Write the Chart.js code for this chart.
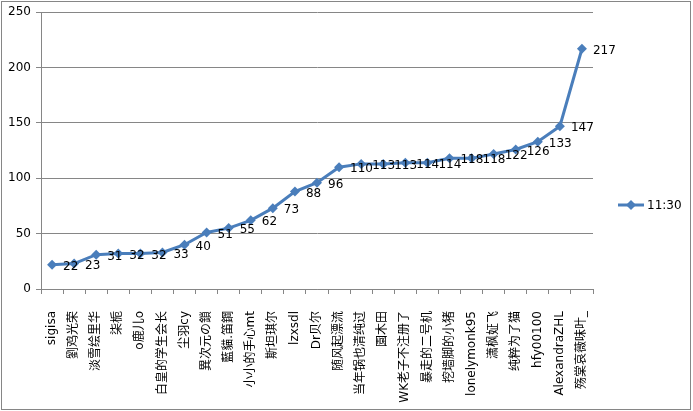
<!DOCTYPE html>
<html>
<head>
<meta charset="utf-8">
<script src="https://cdn.jsdelivr.net/npm/chart.js@4"></script>
<style>
  html, body { margin: 0; padding: 0; background: #fff; }
  #wrap { width: 693px; height: 411px; position: relative; }
</style>
</head>
<body>
<div id="wrap"><canvas id="myChart"></canvas></div>
<script>
var names = [
  "sigisa", "劉鸡光荣", "淡雪绘里华", "柒栀", "o鹿儿o", "白皇的学生会长", "尘羽cy",
  "異次元の鎖", "藍貓.笛鋼", "小小的手心mt", "斯坦琪尔", "lzxsdl", "Dr贝尔",
  "随风起漂流", "当年锅也清纯过", "園木田", "WK老子不注册了", "暴走的二号机",
  "挖墙脚的小猪", "lonelymonk95", "潇枫姃飞", "纯粹为了猫", "hfy00100",
  "AlexandraZHL", "殇棠哀薇味叶_"
];
var votes = [22, 23, 31, 32, 32, 33, 40, 51, 55, 62, 73, 88, 96, 110, 113, 113,
  114, 114, 118, 118, 122, 126, 133, 147, 217];
var seriesName = "11:30";
var yTicks = [0, 50, 100, 150, 200, 250];

var FONT = "DejaVu Sans, 'Noto Sans CJK SC', sans-serif";
var BLUE = "#4A7EBB";

// labels to the right of each point, like excel
var pointLabels = {
  id: "pointLabels",
  afterDatasetsDraw: function (chart) {
    var ctx = chart.ctx;
    var meta = chart.getDatasetMeta(0);
    ctx.save();
    ctx.font = "12px " + FONT;
    ctx.fillStyle = "#000";
    ctx.textAlign = "left";
    ctx.textBaseline = "middle";
    meta.data.forEach(function (pt, i) {
      ctx.fillText(String(votes[i]), pt.x + 11, pt.y + 2);
    });
    ctx.restore();
  }
};

// legend with line + diamond, and outer frame
var frameLegend = {
  id: "frameLegend",
  afterDraw: function (chart) {
    var ctx = chart.ctx;
    ctx.save();
    ctx.strokeStyle = "#868686";
    ctx.lineWidth = 1;
    ctx.strokeRect(1.5, 1.5, 689, 408);

    var y = 205;
    ctx.strokeStyle = BLUE;
    ctx.lineWidth = 3;
    ctx.beginPath();
    ctx.moveTo(618, y);
    ctx.lineTo(644, y);
    ctx.stroke();
    ctx.fillStyle = BLUE;
    ctx.beginPath();
    ctx.moveTo(631, y - 5);
    ctx.lineTo(636, y);
    ctx.lineTo(631, y + 5);
    ctx.lineTo(626, y);
    ctx.closePath();
    ctx.fill();
    ctx.fillStyle = "#000";
    ctx.font = "12px " + FONT;
    ctx.textBaseline = "middle";
    ctx.fillText(seriesName, 647, y + 1);
    ctx.restore();
  }
};

var ctx = document.getElementById("myChart").getContext("2d");

var myChart = new Chart(ctx, {
  type: "line",
  data: {
    labels: names,
    datasets: [
      {
        label: seriesName,
        data: votes,
        borderColor: BLUE,
        backgroundColor: BLUE,
        borderWidth: 3,
        pointStyle: "rectRot",
        pointRadius: 5,
        pointHoverRadius: 5,
        pointBorderWidth: 0,
        tension: 0
      }
    ]
  },
  options: {
    responsive: true,
    maintainAspectRatio: false,
    animation: false,
    layout: {
      padding: { left: 1, top: 4, right: 100, bottom: 0 }
    },
    plugins: {
      legend: { display: false },
      tooltip: { enabled: false }
    },
    scales: {
      x: {
        offset: true,
        grid: {
          offset: true,
          drawOnChartArea: false,
          drawTicks: true,
          tickLength: 5,
          color: "#868686"
        },
        border: { color: "#868686" },
        ticks: {
          autoSkip: false,
          maxRotation: 90,
          minRotation: 90,
          padding: 17,
          color: "#000",
          font: { family: FONT, size: 12 }
        },
        afterFit: function (scale) {
          scale.height = 122;
        }
      },
      y: {
        min: 0,
        max: 250,
        afterBuildTicks: function (scale) {
          scale.ticks = yTicks.map(function (v) { return { value: v }; });
        },
        grid: {
          color: "#868686",
          tickLength: 5
        },
        border: { color: "#868686" },
        ticks: {
          padding: 5,
          color: "#000",
          font: { family: FONT, size: 12 }
        },
        afterFit: function (scale) {
          scale.width = 40;
        }
      }
    }
  },
  plugins: [pointLabels, frameLegend]
});
</script>
</body>
</html>
